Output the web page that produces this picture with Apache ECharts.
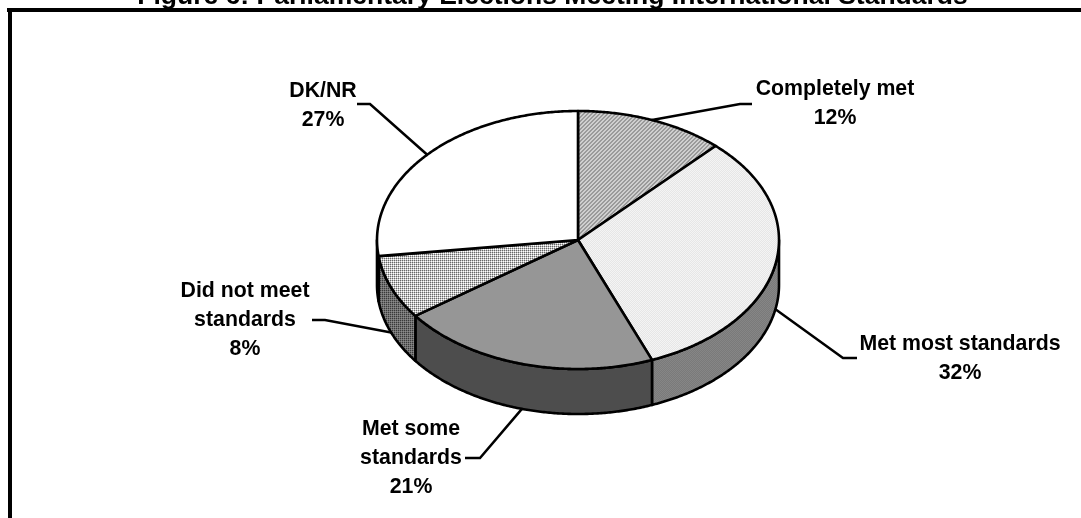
<!DOCTYPE html>
<html><head><meta charset="utf-8">
<style>html,body{margin:0;padding:0;background:#fff}#c{width:1081px;height:518px}</style>
<script src="https://cdn.jsdelivr.net/npm/echarts@6/dist/echarts.min.js"></script>
</head><body><div id="c"></div>
<script>
const titleText = 'Figure 6: Parliamentary Elections Meeting International Standards';
const categories = ['Completely met', 'Met most standards', 'Met some\nstandards', 'Did not meet\nstandards', 'DK/NR'];
const shares = [12, 32, 21, 8, 27];

const FONT = '"Liberation Sans", Arial, sans-serif';
const CX = 578, CY = 240, RX = 201, RY = 129, DEPTH = 45;

function pattern(size, painter) {
  const cv = document.createElement('canvas');
  cv.width = cv.height = size;
  const g = cv.getContext('2d');
  for (let y = 0; y < size; y++) for (let x = 0; x < size; x++) {
    g.fillStyle = painter(x, y);
    g.fillRect(x, y, 1, 1);
  }
  return { image: cv, repeat: 'repeat' };
}
const topFills = [
  pattern(4, (x, y) => ((x + y) % 4 < 2 ? '#9a9a9a' : '#cfcfcf')),
  pattern(2, (x, y) => ((x + y) % 2 ? '#e6e6e6' : '#f4f4f4')),
  '#969696',
  pattern(4, (x, y) => ((x % 2 === 0 && y % 2 === 0) ? '#686868' : ((x + y) % 2 ? '#c4c4c4' : '#ffffff'))),
  '#ffffff'
];
const sideFills = [
  '#808080',
  pattern(2, (x, y) => ((x + y) % 2 ? '#7a7a7a' : '#868686')),
  '#4d4d4d',
  pattern(4, (x, y) => ((x % 2 === 0 && y % 2 === 0) ? '#3a3a3a' : ((x + y) % 2 ? '#707070' : '#8c8c8c'))),
  '#ffffff'
];
// label placement relative to the leader line's anchor on the pie
const labelLayout = [
  { elbow: [740, 104], stub: [752, 104], at: [835, 104] },
  { elbow: [843, 358], stub: [857, 358], at: [960, 359] },
  { elbow: [480, 458], stub: [465, 458], at: [411, 458] },
  { elbow: [325, 320], stub: [312, 320], at: [245, 320] },
  { elbow: [370, 104], stub: [357, 104], at: [323, 106] }
];

const total = shares.reduce((a, b) => a + b, 0);
let running = 0;
const sliceData = shares.map(v => { const row = [v, running]; running += v; return row; });
const deg = v => v / total * 360;
const pt = (a, dz) => {
  const t = a * Math.PI / 180;
  return [CX + RX * Math.sin(t), CY - RY * Math.cos(t) + (dz || 0)];
};
const arc = (a0, a1, dz) => {
  const out = [], n = Math.max(2, Math.ceil((a1 - a0) * 2));
  for (let i = 0; i <= n; i++) out.push(pt(a0 + (a1 - a0) * i / n, dz));
  return out;
};
const edge = { stroke: '#000', lineWidth: 2.6, lineJoin: 'round' };

function renderSide(params, api) {
  const a0 = Math.max(deg(api.value(1)), 90);
  const a1 = Math.min(deg(api.value(1) + api.value(0)), 270);
  if (a1 <= a0) return { type: 'group', children: [] };
  const points = arc(a0, a1, 0).concat(arc(a0, a1, DEPTH).reverse());
  return { type: 'polygon', shape: { points }, style: Object.assign({ fill: sideFills[params.dataIndex] }, edge) };
}
function renderTop(params, api) {
  const a0 = deg(api.value(1)), a1 = deg(api.value(1) + api.value(0));
  const points = [[CX, CY]].concat(arc(a0, a1, 0));
  return { type: 'polygon', shape: { points }, style: Object.assign({ fill: topFills[params.dataIndex] }, edge) };
}
function renderLabel(params, api) {
  const i = params.dataIndex;
  const mid = deg(api.value(1) + api.value(0) / 2);
  const onSide = mid > 90 && mid < 270;
  const anchor = pt(mid, onSide ? DEPTH : 0);
  const L = labelLayout[i];
  return {
    type: 'group',
    children: [
      { type: 'polyline', shape: { points: [anchor, L.elbow, L.stub] },
        style: { fill: 'none', stroke: '#000', lineWidth: 2.5 } },
      { type: 'text', x: L.at[0], y: L.at[1],
        style: { text: categories[i] + '\n' + api.value(0) + '%', fill: '#000', align: 'center',
          verticalAlign: 'middle', font: 'bold 21.3px ' + FONT, lineHeight: 29 } }
    ]
  };
}

const chart = echarts.init(document.getElementById('c'), null, { renderer: 'canvas' });
chart.setOption({
  animation: false,
  backgroundColor: '#fff',
  title: { text: titleText, left: 547.5, top: -22, textAlign: 'center',
    textStyle: { fontFamily: FONT, fontWeight: 'bold', fontSize: 26.5, color: '#000' } },
  graphic: [
    { type: 'line', shape: { x1: 7, y1: 10, x2: 1081, y2: 10 }, style: { stroke: '#000', lineWidth: 4 } },
    { type: 'line', shape: { x1: 10, y1: 8, x2: 10, y2: 518 }, style: { stroke: '#000', lineWidth: 4 } }
  ],
  series: [
    { type: 'custom', coordinateSystem: 'none', silent: true, z: 2, renderItem: renderSide, data: sliceData },
    { type: 'custom', coordinateSystem: 'none', silent: true, z: 3, renderItem: renderTop, data: sliceData },
    { type: 'custom', coordinateSystem: 'none', silent: true, z: 4, renderItem: renderLabel, data: sliceData }
  ]
});
</script></body></html>
